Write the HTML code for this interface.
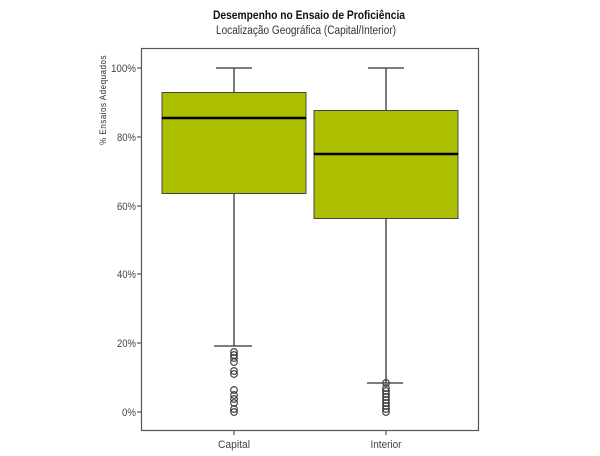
<!DOCTYPE html>
<html><head><meta charset="utf-8"><style>body{margin:0;background:#fff}svg{display:block}text{font-family:"Liberation Sans",sans-serif}</style></head>
<body>
<svg width="600" height="456" viewBox="0 0 600 456" xmlns="http://www.w3.org/2000/svg">
<rect width="600" height="456" fill="#fff"/>
<text x="309" y="19" text-anchor="middle" font-size="12" font-weight="bold" fill="#111" textLength="192" lengthAdjust="spacingAndGlyphs">Desempenho no Ensaio de Proficiência</text>
<text x="306" y="34" text-anchor="middle" font-size="11.5" fill="#333" textLength="180" lengthAdjust="spacingAndGlyphs">Localização Geográfica (Capital/Interior)</text>
<text transform="translate(106,100) rotate(-90)" text-anchor="middle" font-size="9" fill="#333" letter-spacing="0.5" textLength="90" lengthAdjust="spacingAndGlyphs">% Ensaios Adequados</text>
<rect x="141.5" y="48.5" width="337" height="382" fill="none" stroke="#555" stroke-width="1.2"/>
<g stroke="#555" stroke-width="1.2">
<line x1="137" y1="68" x2="141.5" y2="68"/><line x1="137" y1="137" x2="141.5" y2="137"/><line x1="137" y1="206" x2="141.5" y2="206"/><line x1="137" y1="274" x2="141.5" y2="274"/><line x1="137" y1="343" x2="141.5" y2="343"/><line x1="137" y1="412" x2="141.5" y2="412"/>
<line x1="234" y1="430" x2="234" y2="435"/><line x1="386" y1="430" x2="386" y2="435"/>
</g>
<g font-size="11" fill="#444" text-anchor="end">
<text x="136" y="72" textLength="25" lengthAdjust="spacingAndGlyphs">100%</text><text x="136" y="141" textLength="19" lengthAdjust="spacingAndGlyphs">80%</text><text x="136" y="210" textLength="19" lengthAdjust="spacingAndGlyphs">60%</text><text x="136" y="278" textLength="19" lengthAdjust="spacingAndGlyphs">40%</text><text x="136" y="347" textLength="19" lengthAdjust="spacingAndGlyphs">20%</text><text x="136" y="416" textLength="14" lengthAdjust="spacingAndGlyphs">0%</text>
</g>
<g font-size="11" fill="#444" text-anchor="middle"><text x="234" y="448" textLength="32" lengthAdjust="spacingAndGlyphs">Capital</text><text x="386" y="448" textLength="31" lengthAdjust="spacingAndGlyphs">Interior</text></g>
<g stroke="#333" stroke-width="1.3">
<line x1="234" y1="68" x2="234" y2="92"/><line x1="216" y1="68" x2="252" y2="68"/>
<line x1="234" y1="193" x2="234" y2="346"/><line x1="214" y1="346" x2="252" y2="346"/>
<line x1="386" y1="68" x2="386" y2="110"/><line x1="368" y1="68" x2="404" y2="68"/>
<line x1="386" y1="218" x2="386" y2="383"/><line x1="367" y1="383" x2="403" y2="383"/>
</g>
<rect x="162" y="92.5" width="144" height="101" fill="#abbf00" stroke="#444" stroke-width="1"/>
<line x1="162" y1="118" x2="306" y2="118" stroke="#000" stroke-width="2.5"/>
<rect x="314" y="110.5" width="144" height="108" fill="#abbf00" stroke="#444" stroke-width="1"/>
<line x1="314" y1="154" x2="458" y2="154" stroke="#000" stroke-width="2.5"/>
<g fill="none" stroke="#333" stroke-width="1.1">
<circle cx="234" cy="352" r="3.3"/><circle cx="234" cy="355" r="3.3"/><circle cx="234" cy="358" r="3.3"/><circle cx="234" cy="362" r="3.3"/>
<circle cx="234" cy="371" r="3.3"/><circle cx="234" cy="374" r="3.3"/>
<circle cx="234" cy="390" r="3.3"/><circle cx="234" cy="395" r="3.3"/><circle cx="234" cy="399" r="3.3"/><circle cx="234" cy="403" r="3.3"/><circle cx="234" cy="409" r="3.3"/><circle cx="234" cy="412" r="3.3"/>
<circle cx="386" cy="383" r="3.3"/><circle cx="386" cy="388" r="3.3"/><circle cx="386" cy="391" r="3.3"/><circle cx="386" cy="394" r="3.3"/><circle cx="386" cy="397" r="3.3"/><circle cx="386" cy="400" r="3.3"/><circle cx="386" cy="403" r="3.3"/><circle cx="386" cy="406" r="3.3"/><circle cx="386" cy="409" r="3.3"/><circle cx="386" cy="412" r="3.3"/>
</g>
</svg>
</body></html>
